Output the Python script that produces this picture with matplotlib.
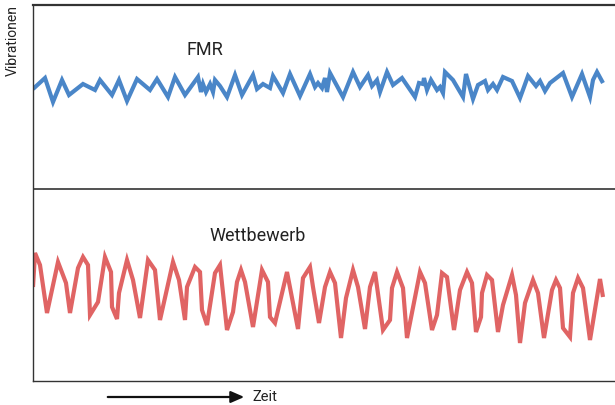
import matplotlib
matplotlib.use("Agg")
import matplotlib.pyplot as plt
from matplotlib import font_manager

# Time (arbitrary units) and vibration amplitude
fmr_t = [0, 12, 20, 29, 36, 50, 62, 67, 79, 86, 94, 104, 117, 124, 135, 142, 152, 165, 168, 170,
         173, 177, 180, 182, 187, 194, 202, 209, 220, 224, 230, 237, 240, 250, 257, 267, 277, 282,
         285, 289, 292, 294, 297, 310, 320, 327, 335, 339, 344, 347, 354, 360, 369, 382, 386, 390,
         391, 394, 398, 404, 407, 410, 412, 420, 430, 433, 440, 445, 452, 455, 460, 464, 470, 479,
         487, 495, 503, 507, 512, 517, 530, 539, 549, 557, 560, 564, 570]
fmr_v = [292, 303, 279, 301, 286, 297, 291, 301, 286, 301, 280, 302, 291, 302, 284, 304, 286, 304, 289, 297,
         289, 297, 289, 301, 295, 284, 306, 286, 306, 292, 297, 293, 305, 288, 307, 285, 307, 294,
         298, 293, 303, 289, 308, 284, 309, 294, 306, 295, 301, 289, 309, 296, 303, 284, 298, 297,
         303, 291, 301, 291, 294, 288, 309, 301, 284, 307, 282, 296, 300, 291, 297, 291, 304, 300,
         283, 305, 295, 300, 290, 298, 308, 284, 307, 284, 301, 309, 298]

comp_t = [0, 2, 7, 14, 25, 33, 37, 45, 50, 55, 57, 65, 72, 78, 79, 84, 86, 94, 100, 107, 115, 122,
          127, 140, 146, 152, 154, 162, 167, 169, 174, 182, 187, 194, 200, 204, 208, 212, 220, 229,
          235, 237, 242, 254, 265, 270, 277, 280, 286, 292, 297, 302, 308, 313, 320, 325, 332, 337,
          342, 350, 357, 359, 364, 370, 374, 387, 392, 399, 404, 409, 414, 421, 427, 434, 439, 443,
          448, 449, 454, 459, 465, 470, 479, 483, 487, 492, 500, 505, 511, 519, 523, 527, 530, 537,
          540, 545, 550, 557, 567, 570]
comp_v = [94, 128, 116, 68, 119, 98, 68, 113, 124, 116, 66, 79, 124, 109, 74, 62, 88, 121, 101, 63, 121, 111,
          61, 119, 101, 61, 94, 114, 109, 71, 56, 108, 116, 51, 69, 99, 111, 99, 54, 111,
          99, 64, 58, 109, 52, 103, 114, 94, 58, 94, 109, 98, 43, 83, 111, 94, 52, 94,
          109, 51, 61, 93, 109, 93, 43, 109, 98, 51, 66, 108, 104, 51, 91, 109, 98, 49,
          64, 88, 106, 101, 49, 76, 106, 86, 38, 78, 101, 88, 43, 91, 101, 93, 53, 44,
          88, 103, 93, 41, 102, 84]

label_fmr = "FMR"
label_comp = "Wettbewerb"
label_y = "Vibrationen"
label_x = "Zeit"

available = {f.name for f in font_manager.fontManager.ttflist}
FONT = [f for f in ["Liberation Sans Narrow", "Roboto", "DejaVu Sans"] if f in available]
plt.rcParams["font.family"] = FONT

fig = plt.figure(figsize=(6.15, 4.05), dpi=100)
ax = fig.add_axes([33 / 615, 1 - 381 / 405, 1 - 33 / 615, (381 - 5) / 405])

ax.plot(fmr_t, fmr_v, color="#4a86c8", lw=3.0, solid_joinstyle="miter", solid_capstyle="butt")
ax.plot(comp_t, comp_v, color="#e06464", lw=3.0, solid_joinstyle="miter", solid_capstyle="butt")
ax.axhline(192.5, color="#333333", lw=1.2)

ax.set_xlim(0, 582)
ax.set_ylim(0, 376)
ax.set_xticks([])
ax.set_yticks([])
ax.spines["right"].set_visible(False)
for s in ("left", "bottom"):
    ax.spines[s].set_color("#333333")
    ax.spines[s].set_linewidth(1.0)
ax.spines["top"].set_color("#333333")
ax.spines["top"].set_linewidth(1.6)

fig.text(205 / 615, 1 - 50 / 405, label_fmr, ha="center", va="center", fontsize=13, color="#222222")
fig.text(258 / 615, 1 - 236 / 405, label_comp, ha="center", va="center", fontsize=13, color="#222222")
fig.text(13 / 615, 1 - 41 / 405, label_y, ha="center", va="center", rotation=90, fontsize=10,
         color="#222222")

fig.patches.append(matplotlib.patches.FancyArrowPatch(
    (105 / 615, 1 - 397 / 405), (247 / 615, 1 - 397 / 405), transform=fig.transFigure,
    arrowstyle="-|>,head_length=8,head_width=3.5", color="#111111", lw=1.6, mutation_scale=1))
fig.text(252 / 615, 1 - 397 / 405, label_x, ha="left", va="center", fontsize=10.5, color="#222222")

fig.savefig("out.png", dpi=100)
